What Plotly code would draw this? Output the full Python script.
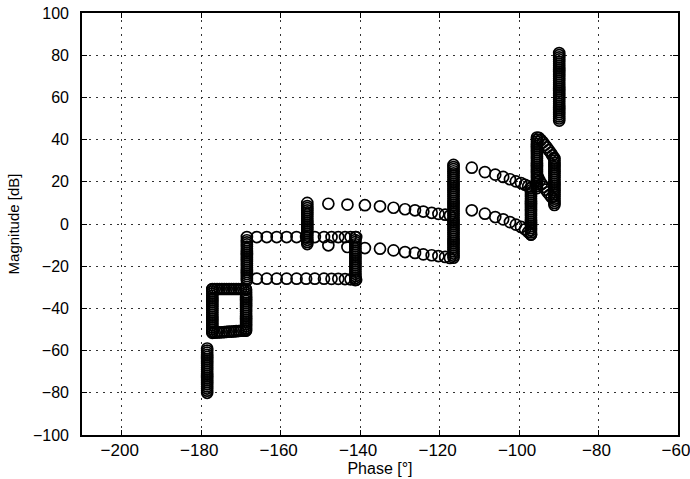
import plotly.graph_objects as go

# ---- data (phase in degrees, magnitude in dB) ----
colA_phase = [-178.5]*22
colA_mag = [-80, -79, -78, -77, -76, -75, -74, -73, -72, -71, -70, -69, -68, -67, -66, -65, -64, -63, -62, -61, -60, -59]

sqL_phase = [-177.2]*21
sqL_mag = [-51, -50, -49, -48, -47, -46, -45, -44, -43, -42, -41, -40, -39, -38, -37, -36, -35, -34, -33, -32, -31]

sqTop_phase = [-177.2, -176.6, -176.0, -175.4, -174.8, -174.2, -173.6, -173.0, -172.4, -171.8, -171.2, -170.6, -170.0, -169.4, -168.8]
sqTop_mag = [-30.8, -30.8, -30.8, -30.8, -30.8, -30.8, -30.8, -30.8, -30.8, -30.8, -30.8, -30.8, -30.8, -30.8, -30.8]

sqBot_phase = [-177.2, -176.6, -176.0, -175.4, -174.8, -174.2, -173.6, -173.0, -172.4, -171.8, -171.2, -170.6, -170.0, -169.4, -168.8]
sqBot_mag = [-51.6, -51.5, -51.4, -51.4, -51.3, -51.2, -51.1, -51.0, -51.0, -50.9, -50.8, -50.7, -50.6, -50.6, -50.5]

sqR_phase = [-168.7]*20
sqR_mag = [-50.5, -49.5, -48.5, -47.5, -46.5, -45.5, -44.5, -43.5, -42.5, -41.5, -40.5, -39.5, -38.5, -37.5, -36.5, -35.5, -34.5, -33.5, -32.5, -31.2]

colF_phase = [-168.5]*21
colF_mag = [-26.7, -25.7, -24.7, -23.7, -22.7, -21.7, -20.7, -19.7, -18.7, -17.7, -16.7, -15.7, -14.7, -13.7, -12.7, -11.7, -10.7, -9.7, -8.7, -7.7, -6.2]

rowG_phase = [-166.0, -163.5, -161.0, -158.5, -156.0, -153.6, -151.4, -149.1, -147.2, -145.5, -143.8, -142.4, -141.0]
rowG_mag = [-6.2, -6.2, -6.2, -6.2, -6.2, -6.2, -6.2, -6.2, -6.2, -6.2, -6.2, -6.2, -6.2]

rowH_phase = [-166.0, -163.5, -161.0, -158.5, -156.0, -153.6, -151.4, -149.1, -147.2, -145.5, -143.8, -142.4, -141.0]
rowH_mag = [-25.9, -25.9, -25.9, -25.9, -25.9, -25.9, -25.9, -25.9, -26.0, -26.0, -26.1, -26.2, -26.4]

colI_phase = [-141.2]*21
colI_mag = [-26.6, -25.6, -24.6, -23.6, -22.6, -21.6, -20.6, -19.6, -18.6, -17.6, -16.6, -15.6, -14.6, -13.6, -12.6, -11.6, -10.6, -9.6, -8.6, -7.6, -6.2]

colJ_phase = [-153.3]*20
colJ_mag = [-9.5, -8.5, -7.5, -6.5, -5.5, -4.5, -3.5, -2.5, -1.5, -0.5, 0.5, 1.5, 2.5, 3.5, 4.5, 5.5, 6.5, 7.5, 8.5, 10.0]

rowK_phase = [-148.0, -143.2, -138.8, -135.0, -131.6, -128.7, -126.2, -124.1, -122.0, -120.3, -118.6, -117.4]
rowK_mag = [9.6, 9.2, 8.9, 8.4, 7.7, 7.0, 6.5, 5.9, 5.3, 4.8, 4.4, 4.0]

rowL_phase = [-148.0, -143.2, -138.8, -135.0, -131.6, -128.7, -126.2, -124.1, -122.0, -120.3, -118.6, -117.4]
rowL_mag = [-10.1, -10.9, -11.4, -11.7, -12.5, -13.3, -13.7, -14.4, -14.8, -15.2, -15.6, -16.1]

colM_phase = [-116.5]*45
colM_mag = [-16, -15, -14, -13, -12, -11, -10, -9, -8, -7, -6, -5, -4, -3, -2, -1, 0, 1, 2, 3, 4, 5, 6, 7, 8,
            9, 10, 11, 12, 13, 14, 15, 16, 17, 18, 19, 20, 21, 22, 23, 24, 25, 26, 27, 28]

rowN_phase = [-111.9, -108.6, -106.0, -104.0, -102.3, -100.8, -99.5, -98.5, -97.7, -97.1]
rowN_mag = [26.7, 24.6, 23.4, 22.3, 21.2, 20.2, 19.4, 18.6, 17.9, 17.1]

rowO_phase = [-111.9, -108.6, -106.0, -104.0, -102.3, -100.8, -99.5, -98.5, -97.7, -97.0]
rowO_mag = [6.5, 4.9, 3.3, 2.2, 0.9, -0.3, -1.4, -2.5, -3.8, -5.0]

colP_phase = [-97.0]*23
colP_mag = [-5, -4, -3, -2, -1, 0, 1, 2, 3, 4, 5, 6, 7, 8, 9, 10, 11, 12, 13, 14, 15, 16, 17]

colQ_phase = [-95.5]*25
colQ_mag = [17, 18, 19, 20, 21, 22, 23, 24, 25, 26, 27, 28, 29, 30, 31, 32, 33, 34, 35, 36, 37, 38, 39, 40, 41]

diagR_phase = [-95.2, -94.8, -94.3, -93.8, -93.3, -92.8, -92.3, -91.8]
diagR_mag = [22.0, 20.5, 19.0, 17.6, 16.3, 15.0, 13.8, 12.7]

diagS_phase = [-95.0, -94.5, -94.0, -93.5, -93.0, -92.5, -92.0, -91.6, -91.2]
diagS_mag = [40.8, 39.8, 38.7, 37.5, 36.3, 35.0, 33.7, 32.5, 31.3]

colT_phase = [-91.1]*23
colT_mag = [31, 30, 29, 28, 27, 26, 25, 24, 23, 22, 21, 20, 19, 18, 17, 16, 15, 14, 13, 12, 11, 10, 9]

colU_phase = [-89.9]*33
colU_mag = [49, 50, 51, 52, 53, 54, 55, 56, 57, 58, 59, 60, 61, 62, 63, 64, 65, 66, 67, 68, 69, 70,
            71, 72, 73, 74, 75, 76, 77, 78, 79, 80, 81]

x_ticks = [-200, -180, -160, -140, -120, -100, -80, -60]
y_ticks = [-100, -80, -60, -40, -20, 0, 20, 40, 60, 80, 100]

segments = [
    (colA_phase, colA_mag), (sqL_phase, sqL_mag), (sqTop_phase, sqTop_mag),
    (sqBot_phase, sqBot_mag), (sqR_phase, sqR_mag), (colF_phase, colF_mag),
    (rowG_phase, rowG_mag), (rowH_phase, rowH_mag), (colI_phase, colI_mag),
    (colJ_phase, colJ_mag), (rowK_phase, rowK_mag), (rowL_phase, rowL_mag),
    (colM_phase, colM_mag), (rowN_phase, rowN_mag), (rowO_phase, rowO_mag),
    (colP_phase, colP_mag), (colQ_phase, colQ_mag), (diagR_phase, diagR_mag),
    (diagS_phase, diagS_mag), (colT_phase, colT_mag), (colU_phase, colU_mag),
]

phase_all = []
mag_all = []
for p, m in segments:
    phase_all += p
    mag_all += m

fig = go.Figure()
fig.add_trace(go.Scatter(
    x=phase_all, y=mag_all, mode="markers",
    marker=dict(symbol="circle-open", size=11, color="black", line=dict(width=1.7, color="black")),
    showlegend=False, hoverinfo="skip",
))

font_family = "Liberation Sans, Arial, Helvetica, sans-serif"
axis_common = dict(
    showline=True, linecolor="black", linewidth=1.6, mirror="ticks",
    ticks="inside", ticklen=5, tickwidth=1.2, tickcolor="black",
    showgrid=True, gridcolor="#333333", gridwidth=1, griddash="1.5px,5.5px",
    zeroline=False, automargin=False, ticklabeloverflow="allow",
)

fig.update_xaxes(range=[-210, -60], tickvals=x_ticks,
                 tickfont=dict(family=font_family, size=17, color="black"),
                 title=dict(text="Phase [°]", font=dict(family=font_family, size=16, color="black"), standoff=0),
                 ticklabelstandoff=-1, ticklabelshift=-2, **axis_common)
fig.update_yaxes(range=[-100, 100], tickvals=y_ticks,
                 tickfont=dict(family=font_family, size=16, color="black"),
                 title=dict(text="Magnitude [dB]", font=dict(family=font_family, size=15, color="black"), standoff=10),
                 ticklabelstandoff=8, **axis_common)

fig.update_layout(
    width=690, height=479,
    margin=dict(l=82, r=12, t=13, b=44),
    paper_bgcolor="white", plot_bgcolor="white",
    font=dict(family=font_family, color="black"),
)

# remove the default page margin so the figure fills the 690x479 window exactly
fig.write_html("out.html", config={"displayModeBar": False},
               post_script="document.body.style.margin='0px';document.body.style.overflow='hidden';")
